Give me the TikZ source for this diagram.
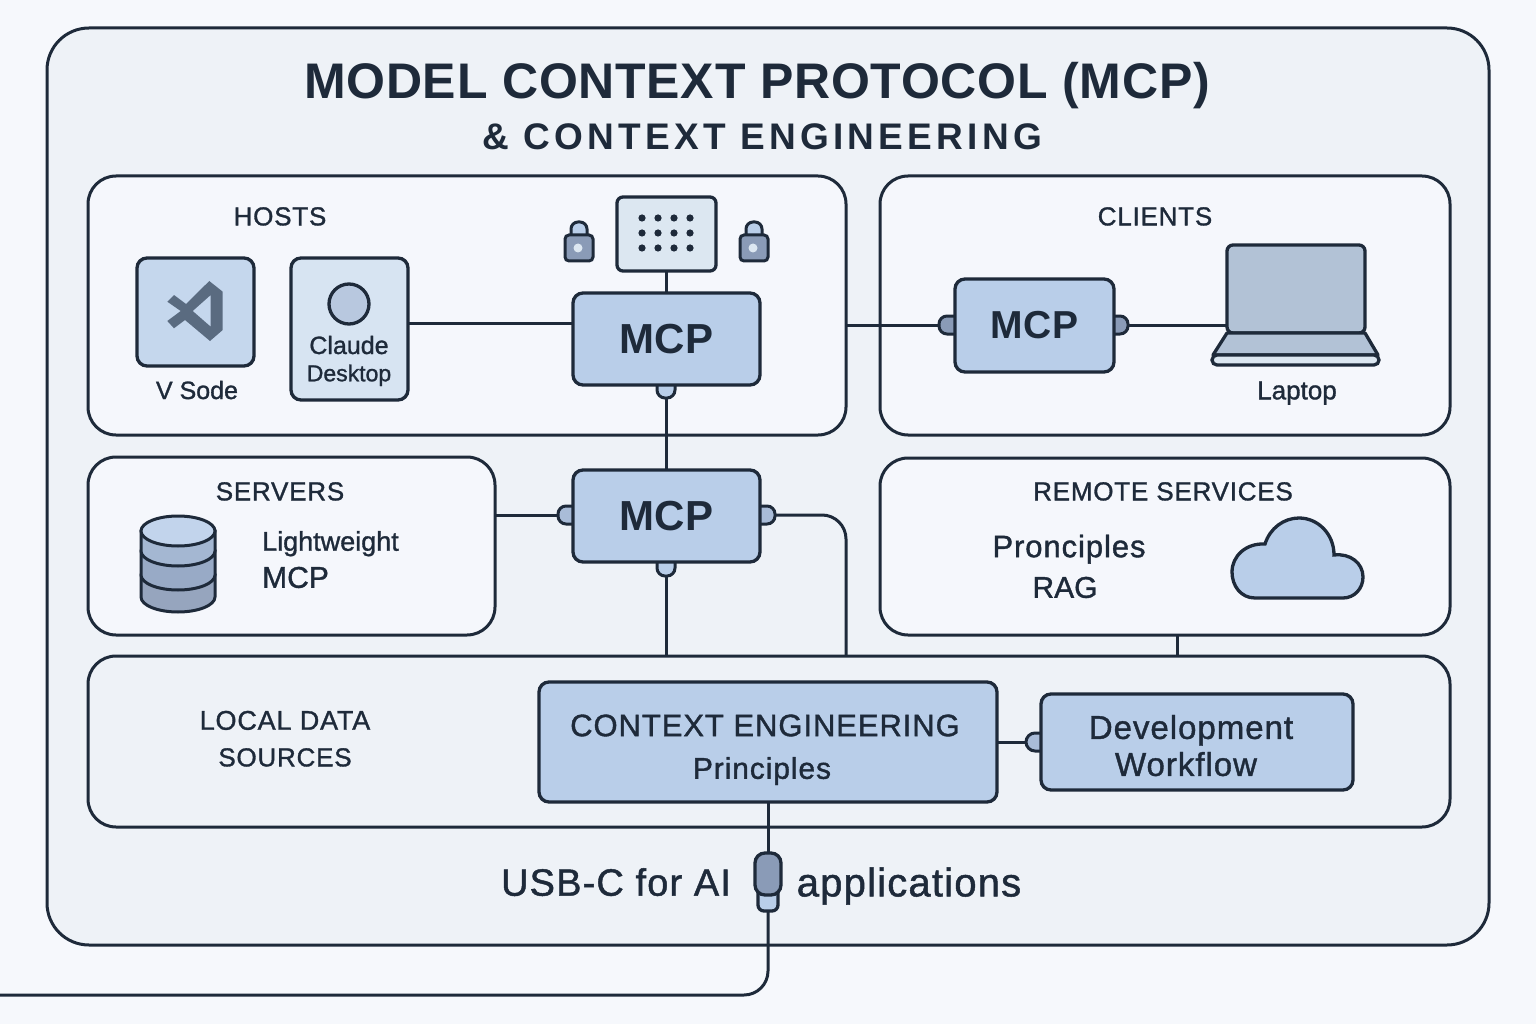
\documentclass[tikz,border=0pt]{standalone}
\usepackage{fontspec}
\setmainfont{Liberation Sans}[FakeBold=1.2]
\newfontfamily\titlefont[LetterSpace=1.5]{Liberation Sans}
\newfontfamily\spacedfont[LetterSpace=11.5]{Liberation Sans}
\newfontfamily\widefont[LetterSpace=3,FakeBold=1.2]{Liberation Sans}
\definecolor{inkc}{HTML}{1E2A3A}
\definecolor{pagec}{HTML}{F6F8FC}
\definecolor{framec}{HTML}{EEF2F7}
\definecolor{panelc}{HTML}{F5F7FC}
\definecolor{boxc}{HTML}{B9CEE9}
\definecolor{vsboxc}{HTML}{C5D7ED}
\definecolor{claudec}{HTML}{D7E4F2}
\definecolor{gridc}{HTML}{DCE7F1}
\definecolor{slatec}{HTML}{8A9BB7}
\definecolor{midc}{HTML}{A9BCD8}
\definecolor{screenc}{HTML}{B2C2D6}
\definecolor{iconc}{HTML}{5A6B80}
\tikzset{
  panel/.style={draw=inkc,line width=3pt,fill=panelc,rounded corners=28pt,inner sep=0pt,outer sep=0pt},
  mcpbox/.style={draw=inkc,line width=3.3pt,fill=boxc,rounded corners=10pt,inner sep=0pt,outer sep=0pt,text=inkc,align=center},
  portv/.style={draw=inkc,line width=3pt,rounded corners=8pt,minimum width=18pt,minimum height=26pt,inner sep=0pt,outer sep=0pt},
  porth/.style={draw=inkc,line width=3pt,rounded corners=8pt,minimum width=30pt,minimum height=18pt,inner sep=0pt,outer sep=0pt},
  wire/.style={draw=inkc,line width=3pt},
  label/.style={text=inkc,inner sep=0pt,text height=.72*#1pt,text depth=0pt,font=\fontsize{#1}{#1}\selectfont},
  caps/.style={text=inkc,inner sep=0pt,text height=.72*#1pt,text depth=0pt,font=\fontsize{#1}{#1}\selectfont\widefont},
}
\begin{document}
\begin{tikzpicture}[x=1pt,y=-1pt]
  \useasboundingbox (0,0) rectangle (1536,1024);
  \fill[pagec] (0,0) rectangle (1536,1024);
  \node[panel,fill=framec,rounded corners=42pt,minimum width=1442pt,minimum height=917pt] (frame) at (768,486.5) {};

  \node[caps=50,font=\fontsize{50}{50}\selectfont\titlefont\bfseries] (title) at (757,81) {MODEL CONTEXT PROTOCOL (MCP)};
  \node[caps=37,font=\fontsize{37}{37}\selectfont\spacedfont\bfseries] (subtitle) at (762,136) {\& CONTEXT ENGINEERING};

  \begin{scope}[every node/.style={panel}]
    \node[minimum width=758pt,minimum height=259pt] (hosts) at (467,305.5) {};
    \node[minimum width=570pt,minimum height=259pt] (clients) at (1165,305.5) {};
    \node[minimum width=407pt,minimum height=178pt] (servers) at (291.5,546) {};
    \node[minimum width=570pt,minimum height=177pt] (remote) at (1165,546.5) {};
    \node[fill=framec,minimum width=1362pt,minimum height=171pt] (local) at (769,741.5) {};
  \end{scope}

  \node[caps=26] (hostslabel) at (280,216) {HOSTS};
  \node[caps=26] (clientslabel) at (1155,216) {CLIENTS};
  \node[caps=26] (serverslabel) at (280,491) {SERVERS};
  \node[caps=26] (remotelabel) at (1163,491) {REMOTE SERVICES};
  \node[caps=27] (locallabel) at (285,720) {LOCAL DATA};
  \node[caps=26] (sourceslabel) at (285,757) {SOURCES};

  \node[portv,fill=boxc] (hostportb) at (666,385) {};
  \node[porth,fill=midc] (midportl) at (573,515) {};
  \node[porth,fill=midc] (midportr) at (760,515) {};
  \node[portv,fill=boxc,minimum height=28pt] (midportb) at (666,562) {};
  \node[porth,fill=slatec,minimum width=32pt] (clientportl) at (955,325) {};
  \node[porth,fill=slatec,minimum width=28pt] (clientportr) at (1114,325) {};
  \node[porth,fill=midc,rounded corners=9pt] (devport) at (1041,742) {};

  \node[mcpbox,minimum width=117pt,minimum height=108pt,fill=vsboxc] (vscode) at (195.5,312) {};
  \node[mcpbox,minimum width=117pt,minimum height=142pt,fill=claudec] (claude) at (349.5,329) {};
  \node[mcpbox,minimum width=99pt,minimum height=74pt,fill=gridc,rounded corners=6pt] (grid) at (666.5,234) {};
  \node[mcpbox,minimum width=187pt,minimum height=92pt,font=\fontsize{42}{42}\selectfont\titlefont\bfseries] (hostmcp) at (666.5,339) {MCP};
  \node[mcpbox,minimum width=187pt,minimum height=92pt,font=\fontsize{42}{42}\selectfont\titlefont\bfseries] (midmcp) at (666.5,516) {MCP};
  \node[mcpbox,minimum width=159pt,minimum height=93pt,font=\fontsize{39}{39}\selectfont\titlefont\bfseries] (clientmcp) at (1034.5,325.5) {\raisebox{-2pt}{MCP}};
  \node[mcpbox,minimum width=458pt,minimum height=120pt] (context) at (768,742) {};
  \node[mcpbox,minimum width=312pt,minimum height=96pt] (devflow) at (1197,742) {};

  \node[label=25] (vscodelabel) at (197,390) {V Sode};
  \node[label=25] (claudelabel) at (349,345) {Claude};
  \node[label=23] (desktoplabel) at (349,373) {Desktop};
  \node[label=26] (laptoplabel) at (1297,390) {Laptop};
  \node[label=27,anchor=west] (lightlabel) at (262,541) {Lightweight};
  \node[label=30,anchor=west] (lightmcp) at (262,577) {MCP};
  \node[caps=31] (pronlabel) at (1069,546) {Pronciples};
  \node[label=30] (raglabel) at (1065,587) {RAG};
  \node[caps=31] (contextlabel) at (765,725) {CONTEXT ENGINEERING};
  \node[caps=30] (principles) at (762,768) {Principles};
  \node[caps=33] (devlabel) at (1191,727) {Development};
  \node[caps=33] (flowlabel) at (1186,764) {Workflow};
  \node[caps=38] (usblabel) at (616,882) {USB-C for AI};
  \node[caps=40] (applabel) at (909,882) {applications};

  \node[mcpbox,minimum width=20pt,minimum height=26pt,rounded corners=6pt] (usbtip) at (768,898) {};
  \node[mcpbox,fill=slatec,minimum width=26pt,minimum height=42pt] (usbplug) at (768,874) {};
  \coordinate (wireend) at (0,995);

  \draw[wire] (claude.east |- 0,323) -- (hostmcp.west |- 0,323);
  \draw[wire] (grid.south) -- (grid.south |- hostmcp.north);
  \draw[wire] (hostportb.south) -- (hostportb |- midmcp.north);
  \draw[wire] (hosts.east |- clientportl) -- (clientportl.west);
  \draw[wire] (clientportr.east) -- (1227,325);
  \draw[wire] (servers.east |- midportl) -- (midportl.west);
  \draw[wire] (midportb.south) -- (midportb |- local.north);
  \draw[wire,rounded corners=24pt] (midportr.east) -| (hosts.east |- local.north);
  \draw[wire] (1177,0 |- remote.south) -- (1177,0 |- local.north);
  \draw[wire] (context.east) -- (devport.west);
  \draw[wire] (usbplug |- context.south) -- (usbplug.north);
  \draw[wire,rounded corners=24pt] (usbtip.south) |- (wireend);

  \draw[inkc,line width=3.3pt,fill=midc!80!panelc] (349,304) circle (20);
  \filldraw[draw=inkc,line width=3.3pt,fill=screenc,rounded corners=6pt] (1227,333) rectangle (1365,245);
  \draw[inkc,line width=3.3pt,fill=screenc,line join=round] (1227,333) -- (1365,333) -- (1378,355) -- (1213,355) -- cycle;
  \draw[inkc,line width=3.3pt,fill=gridc,rounded corners=5pt] (1212,355) rectangle (1379,365);

  \fill[iconc,even odd rule] (209.3,281) -- (222.7,291.7) -- (222.7,330) -- (210,341) -- (185,320) -- (174,328.3) -- (167.3,321) -- (180.7,311) -- (167.3,301.7) -- (174,295) -- (186,304) -- cycle
    (210.7,295) -- (210.7,326.7) -- (192.7,311) -- cycle;

  \foreach \dx in {642,658,674,690}
    \foreach \dy in {218,233,248}
      \fill[inkc] (\dx,\dy) circle (3.6);

  \foreach \lx in {579,754} {
    \draw[inkc,line width=3pt,fill=boxc,rounded corners=7pt] (\lx-8,237) -- (\lx-8,222) -- (\lx+8,222) -- (\lx+8,237);
    \draw[inkc,line width=3pt,fill=slatec,rounded corners=4pt] (\lx-14,235) rectangle (\lx+14,261);
    \fill[gridc] (\lx-1,248) circle (4.5);
  }

  \foreach \ytop/\ybot/\col in {575/597/slatec!90!white,551/575/slatec!70!boxc,531/551/slatec!45!boxc} {
    \draw[inkc,line width=3pt,fill=\col] (141,\ytop) -- (141,\ybot) arc (180:0:37 and 15) -- (215,\ytop) -- cycle;
  }
  \draw[inkc,line width=3pt,fill=boxc!85!panelc] (178,531) ellipse (37 and 15);

  \draw[inkc,line width=3.3pt,fill=boxc] (1255,598) .. controls (1241,598) and (1232,586) .. (1232,572) .. controls (1232,556) and (1246,543) .. (1265,544) .. controls (1270,528) and (1284,518) .. (1299,518) .. controls (1318,518) and (1334,534) .. (1334,555) .. controls (1350,553) and (1363,563) .. (1363,577) .. controls (1363,589) and (1354,598) .. (1343,598) -- cycle;
\end{tikzpicture}
\end{document}
